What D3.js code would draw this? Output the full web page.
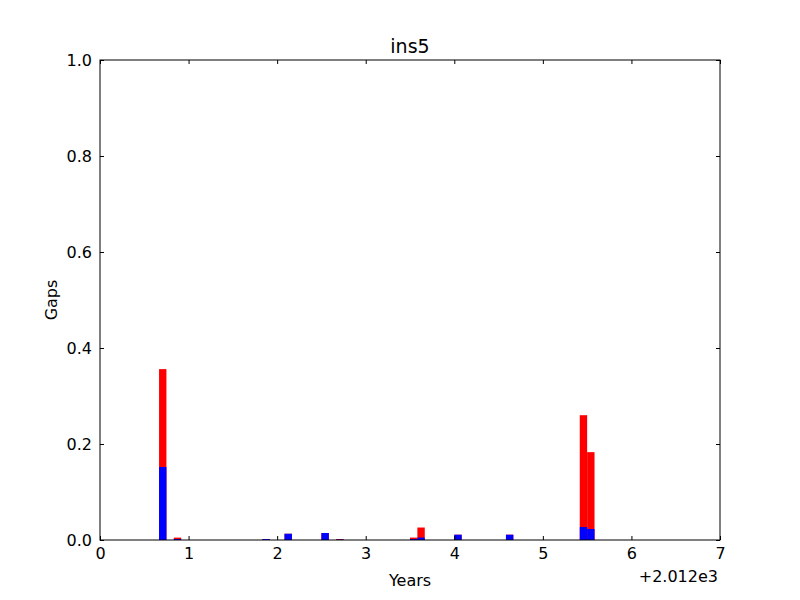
<!DOCTYPE html>
<html><head><meta charset="utf-8">
<script src="https://cdn.jsdelivr.net/npm/d3@7"></script>
<style>body{margin:0;background:#fff}svg{display:block}text{font-family:"DejaVu Sans",sans-serif}</style>
</head><body>
<script>
const monthOffsets = [8, 10, 22, 25, 30, 32, 42, 43, 48, 55, 65, 66];
const redValues   = [0.356, 0.005, 0.002, 0.013, 0.0146, 0.002, 0.005, 0.026, 0.011, 0.011, 0.260, 0.183];
const blueValues  = [0.152, 0.002, 0.002, 0.013, 0.0146, 0.001, 0.002, 0.005, 0.011, 0.011, 0.027, 0.023];
const xTicks = [0,1,2,3,4,5,6,7];
const yTicks = [0,0.2,0.4,0.6,0.8,1.0];

const W=800,H=600, m={l:100,r:80,t:60,b:60};
const svg=d3.select("body").append("svg").attr("width",W).attr("height",H);
const x=d3.scaleLinear().domain([0,7]).range([m.l,W-m.r]);
const y=d3.scaleLinear().domain([0,1]).range([H-m.b,m.t]);
const bw=1/12;
const data=monthOffsets.map((mo,i)=>({x:mo/12,r:redValues[i],b:blueValues[i]}));

svg.append("g").selectAll("rect").data(data).join("rect")
  .attr("x",d=>x(d.x)).attr("width",d=>x(d.x+bw)-x(d.x))
  .attr("y",d=>y(d.r)).attr("height",d=>y(0)-y(d.r)).attr("fill","#ff0000");
svg.append("g").selectAll("rect").data(data).join("rect")
  .attr("x",d=>x(d.x)).attr("width",d=>x(d.x+bw)-x(d.x))
  .attr("y",d=>y(d.b)).attr("height",d=>y(0)-y(d.b)).attr("fill","#0000ff");

const fmtY=d3.format(".1f");
const axB=svg.append("g").attr("transform",`translate(0,${H-m.b})`)
  .call(d3.axisBottom(x).tickValues(xTicks).tickFormat(d3.format("d")).tickSizeInner(-4).tickSizeOuter(0).tickPadding(8));
const axT=svg.append("g").attr("transform",`translate(0,${m.t})`)
  .call(d3.axisTop(x).tickValues(xTicks).tickFormat("").tickSizeInner(-4).tickSizeOuter(0));
const axL=svg.append("g").attr("transform",`translate(${m.l},0)`)
  .call(d3.axisLeft(y).tickValues(yTicks).tickFormat(fmtY).tickSizeInner(-4).tickSizeOuter(0).tickPadding(8));
const axR=svg.append("g").attr("transform",`translate(${W-m.r},0)`)
  .call(d3.axisRight(y).tickValues(yTicks).tickFormat("").tickSizeInner(-4).tickSizeOuter(0));
[axB,axT,axL,axR].forEach(a=>{a.select(".domain").remove();a.selectAll("text").attr("font-size",16).attr("fill","#000").attr("font-family","DejaVu Sans");a.selectAll("line").attr("stroke","#000");});

svg.append("rect").attr("x",m.l).attr("y",m.t).attr("width",W-m.l-m.r).attr("height",H-m.t-m.b)
  .attr("fill","none").attr("stroke","#000").attr("stroke-width",1);

svg.append("text").attr("x",(m.l+W-m.r)/2).attr("y",53).attr("text-anchor","middle").attr("font-size",19).text("ins5");
svg.append("text").attr("x",(m.l+W-m.r)/2).attr("y",586).attr("text-anchor","middle").attr("font-size",16).text("Years");
svg.append("text").attr("transform",`translate(57,${(m.t+H-m.b)/2}) rotate(-90)`).attr("text-anchor","middle").attr("font-size",16).text("Gaps");
svg.append("text").attr("x",718).attr("y",582).attr("text-anchor","end").attr("font-size",16).text("+2.012e3");
</script>
</body></html>
